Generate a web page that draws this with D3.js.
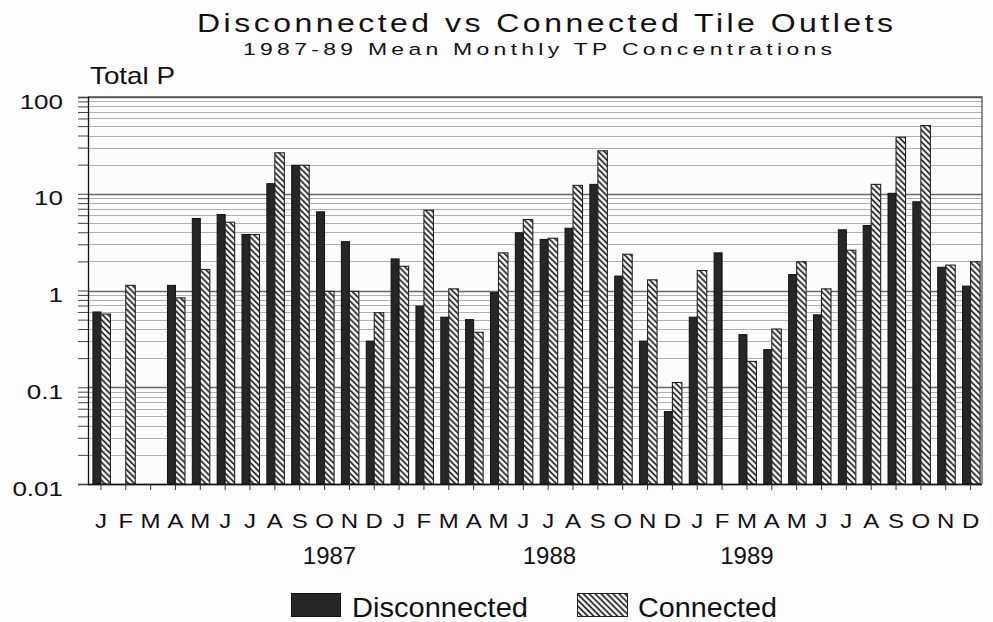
<!DOCTYPE html>
<html>
<head>
<meta charset="utf-8">
<script src="https://cdn.jsdelivr.net/npm/d3@7"></script>
<style>
  html, body { margin: 0; padding: 0; background: #fdfdfd; }
  svg { display: block; font-family: "Liberation Sans", Arial, sans-serif; }
</style>
</head>
<body>
<svg id="chart" width="993" height="622"></svg>
<script>
// Mean monthly total phosphorus, 1987-89
const monthLetters = ["J","F","M","A","M","J","J","A","S","O","N","D"];
const years = ["1987", "1988", "1989"];
const months = years.flatMap(y => monthLetters.map((m, i) => y + "-" + (i + 1)));

const disconnected = [0.60, null, null, 1.13, 5.55, 6.1, 3.8, 12.7, 19.7, 6.5, 3.2, 0.30,
                      2.12, 0.69, 0.53, 0.50, 0.95, 3.95, 3.37, 4.4, 12.5, 1.41, 0.30, 0.056,
                      0.53, 2.45, 0.35, 0.245, 1.46, 0.56, 4.24, 4.7, 10.1, 8.26, 1.74, 1.11];
const connected    = [0.57, 1.13, null, 0.84, 1.65, 5.08, 3.79, 26.5, 19.7, 0.98, 0.98, 0.59,
                      1.78, 6.76, 1.04, 0.37, 2.45, 5.42, 3.47, 12.2, 27.8, 2.37, 1.29, 0.112,
                      1.61, null, 0.185, 0.40, 1.98, 1.04, 2.61, 12.5, 38.4, 50.7, 1.83, 1.98];

const yTickLabels = ["0.01", "0.1", "1", "10", "100"];
const yMajor = [0.01, 0.1, 1, 10, 100];

const svg = d3.select("#chart");
const plotL = 88, plotR = 982, plotT = 97, plotB = 484;

const x = d3.scaleBand().domain(months).range([plotL + 0.5, plotR + 1]).padding(0);
const y = d3.scaleLog().domain([0.01, 100]).range([plotB, plotT]);

// the lettering is a broad sans: stretch glyphs horizontally by factor k
function widen(sel, k) {
  sel.each(function () {
    const len = this.getComputedTextLength();
    if (len > 0) d3.select(this).attr("textLength", len * k).attr("lengthAdjust", "spacingAndGlyphs");
  });
}

// centred heading: glyphs widened by k, then tracked out to fill the given width
function heading(str, cxPos, baseY, size, k, width) {
  svg.append("text")
    .attr("transform", `translate(${cxPos},${baseY}) scale(${k},1)`)
    .attr("text-anchor", "middle")
    .attr("font-size", size).attr("fill", "#111")
    .attr("textLength", width / k).attr("lengthAdjust", "spacing")
    .text(str);
}

// hatch pattern for the connected outlets
const defs = svg.append("defs");
const pat = defs.append("pattern")
  .attr("id", "hatch")
  .attr("patternUnits", "userSpaceOnUse")
  .attr("width", 4.2).attr("height", 4.2)
  .attr("patternTransform", "rotate(-45)");
pat.append("rect").attr("width", 4.2).attr("height", 4.2).attr("fill", "#fafafa");
pat.append("line").attr("x1", 1).attr("x2", 1).attr("y1", 0).attr("y2", 4.2)
  .attr("stroke", "#222").attr("stroke-width", 1.7);

// plot background
svg.append("rect").attr("x", plotL).attr("y", plotT)
  .attr("width", plotR - plotL).attr("height", plotB - plotT).attr("fill", "#fcfcfc");

// horizontal grid at every log tick
const gridTicks = y.ticks();
svg.append("g").selectAll("line").data(gridTicks).join("line")
  .attr("x1", plotL).attr("x2", plotR)
  .attr("y1", d => Math.round(y(d)) + 0.5).attr("y2", d => Math.round(y(d)) + 0.5)
  .attr("stroke", d => yMajor.includes(d) ? "#666" : "#b0b0b0")
  .attr("stroke-width", d => yMajor.includes(d) ? 1.3 : 1);

// border (top and right)
svg.append("path")
  .attr("d", `M${plotL},${plotT}H${plotR}V${plotB}`)
  .attr("fill", "none").attr("stroke", "#555").attr("stroke-width", 1.3);

// bars
const dW = 8, cW = 9.5;
const cx = d => x(d) + x.bandwidth() / 2;
const gBars = svg.append("g");
gBars.selectAll("rect.dis").data(months.map((m, i) => [m, disconnected[i]]).filter(d => d[1] != null))
  .join("rect").attr("class", "dis")
  .attr("x", d => cx(d[0]) - dW)
  .attr("y", d => y(d[1]))
  .attr("width", dW)
  .attr("height", d => plotB - y(d[1]))
  .attr("fill", "#262626").attr("stroke", "#111").attr("stroke-width", 1);
gBars.selectAll("rect.con").data(months.map((m, i) => [m, connected[i]]).filter(d => d[1] != null))
  .join("rect").attr("class", "con")
  .attr("x", d => cx(d[0]))
  .attr("y", d => y(d[1]))
  .attr("width", cW)
  .attr("height", d => plotB - y(d[1]))
  .attr("fill", "url(#hatch)").attr("stroke", "#222").attr("stroke-width", 1.1);

// left axis: all log ticks, labels only on decades
const yAxis = d3.axisLeft(y)
  .tickValues(gridTicks)
  .tickSize(10).tickPadding(15)
  .tickFormat(d => { const k = yMajor.indexOf(d); return k >= 0 ? yTickLabels[k] : ""; });
const gy = svg.append("g").attr("transform", `translate(${plotL},0)`).call(yAxis);
gy.select(".domain").attr("stroke", "#111").attr("stroke-width", 1.3);
gy.selectAll(".tick line").attr("stroke", "#444");
gy.selectAll("text").attr("font-size", 20).attr("fill", "#111").attr("dy", "0.55em");
widen(gy.selectAll("text"), 1.3);

// bottom axis: month initials
const xAxis = d3.axisBottom(x)
  .tickSize(6).tickPadding(24)
  .tickFormat(d => monthLetters[+d.split("-")[1] - 1]);
const gx = svg.append("g").attr("transform", `translate(0,${plotB})`).call(xAxis);
gx.select(".domain").attr("d", `M${plotL},0.5H${plotR}`).attr("stroke", "#111").attr("stroke-width", 1.3);
gx.selectAll(".tick line").attr("stroke", "#333");
gx.selectAll("text").attr("font-size", 20).attr("fill", "#111");
widen(gx.selectAll("text"), 1.2);

// year labels
const yearAt = [9.7, 18.55, 26.5];
svg.append("g").selectAll("text").data(years).join("text")
  .attr("x", (d, i) => x(months[0]) + yearAt[i] * x.bandwidth())
  .attr("y", 564)
  .attr("text-anchor", "middle")
  .attr("font-size", 24).attr("fill", "#111")
  .text(d => d);

// titles
heading("Disconnected vs Connected Tile Outlets", 545, 32, 25, 1.28, 696);
heading("1987-89 Mean Monthly TP Concentrations", 537.5, 55, 17, 1.35, 589);
svg.append("text").attr("x", 90).attr("y", 84)
  .attr("font-size", 24).attr("fill", "#111")
  .attr("textLength", 85).attr("lengthAdjust", "spacingAndGlyphs")
  .text("Total P");

// legend
const lg = svg.append("g");
lg.append("rect").attr("x", 291.5).attr("y", 593.5).attr("width", 49).attr("height", 23)
  .attr("fill", "#262626").attr("stroke", "#111");
lg.append("text").attr("x", 352).attr("y", 616.5).attr("font-size", 28).attr("fill", "#111")
  .attr("textLength", 176).attr("lengthAdjust", "spacingAndGlyphs").text("Disconnected");
lg.append("rect").attr("x", 577.5).attr("y", 593.5).attr("width", 50).attr("height", 23)
  .attr("fill", "url(#hatch)").attr("stroke", "#222");
lg.append("text").attr("x", 638).attr("y", 616.5).attr("font-size", 28).attr("fill", "#111")
  .attr("textLength", 139).attr("lengthAdjust", "spacingAndGlyphs").text("Connected");
</script>
</body>
</html>
